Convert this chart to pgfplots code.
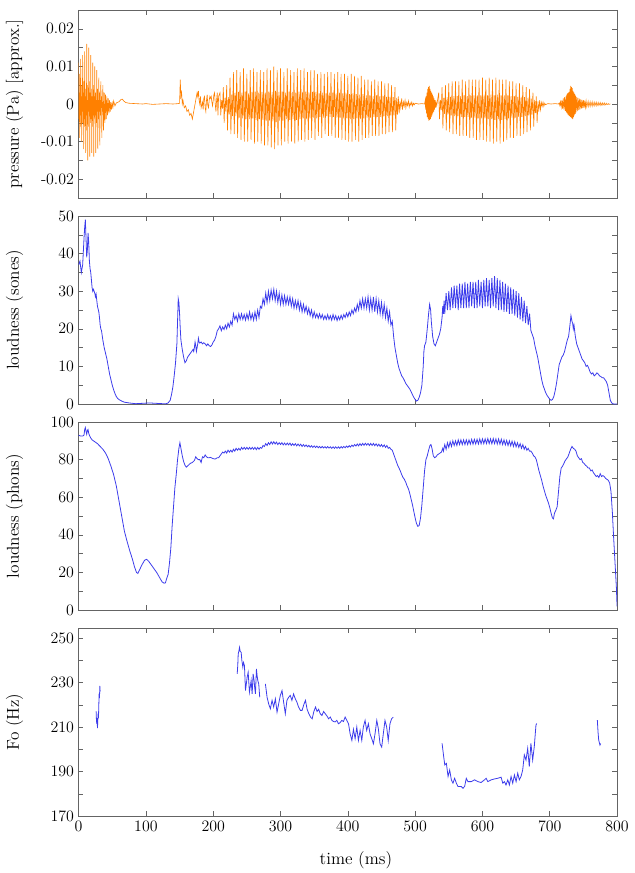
\documentclass[border=0pt]{standalone}
\usepackage{pgfplots}
\pgfplotsset{compat=1.18}
\usepgfplotslibrary{groupplots}
\definecolor{wave}{RGB}{255,128,0}
\definecolor{lblue}{RGB}{60,60,235}
\definecolor{frame}{RGB}{100,100,100}
\begin{document}
\begin{tikzpicture}
\begin{groupplot}[
  group style={group size=1 by 4, vertical sep=13.5pt, xticklabels at=edge bottom},
  width=405.75pt, height=141.75pt, scale only axis,
  xmin=0, xmax=800, xtick={0,100,...,800},
  tick align=inside,
  axis line style={frame}, every tick/.style={frame},
  major tick length=3.5pt, minor tick length=3.5pt,
  tick label style={font=\fontsize{12}{14}\selectfont},
  every axis y label/.style={at={(axis description cs:-0.119,0.5)}, rotate=90, anchor=center, font=\fontsize{13}{15}\selectfont},
  minor y tick num=1,
]
% ---------------- pressure waveform ----------------
\nextgroupplot[ymin=-0.025, ymax=0.025, ytick={-0.02,-0.01,0,0.01,0.02},
  yticklabels={-0.02,-0.01,0,0.01,0.02}, scaled y ticks=false,
  ylabel={pressure (Pa) [approx.]}]
\addplot[wave, line width=0.45pt] coordinates {
(0,0.011)(0.5,-0.004)(1,0.008)(1.5,-0.009)(2,0.003)(2.5,-0.006)(3,0.012)(3.5,-0.003)(4,0.005)(4.5,-0.010)
(5,0.002)(5.5,-0.005)(6,0.013)(6.5,-0.002)(7,0.006)(7.5,-0.012)(8,0.003)(8.5,-0.006)(9,0.014)(9.5,-0.004)
(10,0.004)(10.5,-0.013)(11,0.002)(11.5,-0.007)(12,0.016)(12.5,-0.003)(13,0.005)(13.5,-0.015)(14,0.001)(14.5,-0.006)
(15,0.015)(15.5,-0.002)(16,0.006)(16.5,-0.014)(17,0.003)(17.5,-0.005)(18,0.013)(18.5,-0.004)(19,0.004)(19.5,-0.013)
(20,0.002)(20.5,-0.006)(21,0.011)(21.5,-0.003)(22,0.005)(22.5,-0.014)(23,0.002)(23.5,-0.004)(24,0.010)(24.5,-0.003)
(25,0.003)(25.5,-0.013)(26,0.001)(26.5,-0.005)(27,0.009)(27.5,-0.002)(28,0.004)(28.5,-0.012)(29,0.001)(29.5,-0.004)
(30,0.007)(30.5,-0.002)(31,0.003)(31.5,-0.011)(32,0.001)(32.5,-0.003)(33,0.006)(33.5,-0.001)(34,0.002)(34.5,-0.009)
(35,0.0005)(35.5,-0.002)(36,0.005)(37,-0.007)(38,0.003)(39,-0.005)(40,0.0025)(41,-0.004)(42,0.002)(43,-0.003)
(44,0.0015)(45,-0.0025)(46,0.001)(47,-0.002)(48,0.0005)(49,-0.0015)(50,0.0002)(51,-0.0008)(52,0.0008)(54,-0.0005)
(56,0.0003)(60,0.0006)(63,0.0012)(65,0.0013)(67,0.0008)(70,0.0004)(75,0.0002)(85,0.0001)(95,0)(100,0.0001)
(110,-0.0001)(120,0)(130,0.0001)(140,0)(148,0.0001)(150,0.0002)
(151,0.0065)(152,0.002)(153,0.003)(154,0)(155,0.001)(157,-0.001)(159,-0.0005)(161,-0.002)(163,-0.0015)(165,-0.003)
(167,-0.0025)(169,-0.004)(170,-0.003)(172,-0.001)(174,0.001)(176,0.003)(177,0.002)(178,0.0035)(179,0.001)(180,0)
(181,0.002)(182,-0.001)(184,0.0005)(185,-0.0015)(186,0.0015)(187,0.002)(188,-0.001)(189,-0.002)(190,0.001)(191,0.0025)
(192,-0.0005)(193,-0.001)(194,0.001)(195,0.002)(196,0.0015)(197,0.002)(198,0.0005)(199,-0.0005)(200,0.001)(201,0.0025)
(202,0.003)(203,0)(204,-0.002)(205,0.001)(206,0.003)(207,-0.003)(208,0.002)
(210,0.0030)(211.2,-0.0030)(212.5,0.0010)(213.7,-0.0012)
(215,0.0045)(216.2,-0.0050)(217.5,0.0016)(218.7,-0.0020)
(220,0.0050)(221.2,-0.0070)(222.5,0.0018)(223.7,-0.0028)
(225,0.0070)(226.2,-0.0080)(227.5,0.0025)(228.7,-0.0032)
(230,0.0085)(231.2,-0.0080)(232.5,0.0030)(233.7,-0.0032)
(235,0.0090)(236.2,-0.0090)(237.5,0.0032)(238.7,-0.0036)
(240,0.0085)(241.2,-0.0095)(242.5,0.0030)(243.7,-0.0038)
(245,0.0095)(246.2,-0.0100)(247.5,0.0033)(248.7,-0.0040)
(250,0.0080)(251.2,-0.0100)(252.5,0.0028)(253.7,-0.0040)
(255,0.0090)(256.2,-0.0095)(257.5,0.0032)(258.7,-0.0038)
(260,0.0095)(261.2,-0.0105)(262.5,0.0033)(263.7,-0.0042)
(265,0.0085)(266.2,-0.0100)(267.5,0.0030)(268.7,-0.0040)
(270,0.0090)(271.2,-0.0105)(272.5,0.0032)(273.7,-0.0042)
(275,0.0085)(276.2,-0.0110)(277.5,0.0030)(278.7,-0.0044)
(280,0.0095)(281.2,-0.0110)(282.5,0.0033)(283.7,-0.0044)
(285,0.0090)(286.2,-0.0115)(287.5,0.0032)(288.7,-0.0046)
(290,0.0100)(291.2,-0.0120)(292.5,0.0035)(293.7,-0.0048)
(295,0.0090)(296.2,-0.0110)(297.5,0.0032)(298.7,-0.0044)
(300,0.0095)(301.2,-0.0110)(302.5,0.0033)(303.7,-0.0044)
(305,0.0085)(306.2,-0.0100)(307.5,0.0030)(308.7,-0.0040)
(310,0.0095)(311.2,-0.0105)(312.5,0.0033)(313.7,-0.0042)
(315,0.0090)(316.2,-0.0100)(317.5,0.0032)(318.7,-0.0040)
(320,0.0085)(321.2,-0.0105)(322.5,0.0030)(323.7,-0.0042)
(325,0.0095)(326.2,-0.0100)(327.5,0.0033)(328.7,-0.0040)
(330,0.0090)(331.2,-0.0095)(332.5,0.0032)(333.7,-0.0038)
(335,0.0095)(336.2,-0.0100)(337.5,0.0033)(338.7,-0.0040)
(340,0.0085)(341.2,-0.0095)(342.5,0.0030)(343.7,-0.0038)
(345,0.0090)(346.2,-0.0090)(347.5,0.0032)(348.7,-0.0036)
(350,0.0090)(351.2,-0.0095)(352.5,0.0032)(353.7,-0.0038)
(355,0.0080)(356.2,-0.0085)(357.5,0.0028)(358.7,-0.0034)
(360,0.0085)(361.2,-0.0090)(362.5,0.0030)(363.7,-0.0036)
(365,0.0080)(366.2,-0.0080)(367.5,0.0028)(368.7,-0.0032)
(370,0.0085)(371.2,-0.0085)(372.5,0.0030)(373.7,-0.0034)
(375,0.0085)(376.2,-0.0085)(377.5,0.0030)(378.7,-0.0034)
(380,0.0080)(381.2,-0.0090)(382.5,0.0028)(383.7,-0.0036)
(385,0.0085)(386.2,-0.0090)(387.5,0.0030)(388.7,-0.0036)
(390,0.0080)(391.2,-0.0095)(392.5,0.0028)(393.7,-0.0038)
(395,0.0080)(396.2,-0.0095)(397.5,0.0028)(398.7,-0.0038)
(400,0.0075)(401.2,-0.0100)(402.5,0.0026)(403.7,-0.0040)
(405,0.0080)(406.2,-0.0100)(407.5,0.0028)(408.7,-0.0040)
(410,0.0075)(411.2,-0.0095)(412.5,0.0026)(413.7,-0.0038)
(415,0.0070)(416.2,-0.0100)(417.5,0.0025)(418.7,-0.0040)
(420,0.0075)(421.2,-0.0095)(422.5,0.0026)(423.7,-0.0038)
(425,0.0065)(426.2,-0.0090)(427.5,0.0023)(428.7,-0.0036)
(430,0.0065)(431.2,-0.0090)(432.5,0.0023)(433.7,-0.0036)
(435,0.0060)(436.2,-0.0085)(437.5,0.0021)(438.7,-0.0034)
(440,0.0065)(441.2,-0.0085)(442.5,0.0023)(443.7,-0.0034)
(445,0.0060)(446.2,-0.0085)(447.5,0.0021)(448.7,-0.0034)
(450,0.0060)(451.2,-0.0080)(452.5,0.0021)(453.7,-0.0032)
(455,0.0055)(456.2,-0.0080)(457.5,0.0019)(458.7,-0.0032)
(460,0.0055)(461.2,-0.0075)(462.5,0.0019)(463.7,-0.0030)
(465,0.0050)(466.2,-0.0075)(467.5,0.0018)(468.7,-0.0030)
(470,0.0045)(471.2,-0.0070)(472.5,0.0016)(473.7,-0.0028)
(475,0.0020)(476.2,-0.0025)(477.5,0.0007)(478.7,-0.0010)
(480,0.0015)(481.2,-0.0015)(482.5,0.0005)(483.7,-0.0006)
(485,0.0010)(486.2,-0.0010)(487.5,0.0004)(488.7,-0.0004)
(490,0.0008)(491.2,-0.0008)(492.5,0.0003)(493.7,-0.0003)
(495,0.0005)(496.2,-0.0005)(497.5,0.0002)(498.7,-0.0002)
(500,0.0002)(505,0)(510,0.0001)(514,0)
(515,0.001)(515.6,-0.0015)(516.2,0.002)(516.8,-0.0025)(517.4,0.003)(518,-0.0035)(518.6,0.004)(519.2,-0.004)
(519.8,0.0045)(520.4,-0.0045)(521,0.0048)(521.6,-0.0042)(522.2,0.004)(522.8,-0.004)(523.4,0.0035)(524,-0.0035)
(524.6,0.003)(525.2,-0.003)(525.8,0.0025)(526.4,-0.0025)(527,0.002)(527.6,-0.002)(528.2,0.0015)(528.8,-0.0015)
(529.4,0.001)(530,-0.001)(531,0.0005)(532,-0.0005)
(535,0.0030)(536.2,-0.0040)(537.5,0.0011)(538.7,-0.0016)
(540,0.0045)(541.2,-0.0065)(542.5,0.0016)(543.7,-0.0026)
(545,0.0050)(546.2,-0.0070)(547.5,0.0018)(548.7,-0.0028)
(550,0.0055)(551.2,-0.0075)(552.5,0.0019)(553.7,-0.0030)
(555,0.0060)(556.2,-0.0080)(557.5,0.0021)(558.7,-0.0032)
(560,0.0060)(561.2,-0.0080)(562.5,0.0021)(563.7,-0.0032)
(565,0.0060)(566.2,-0.0085)(567.5,0.0021)(568.7,-0.0034)
(570,0.0065)(571.2,-0.0085)(572.5,0.0023)(573.7,-0.0034)
(575,0.0060)(576.2,-0.0085)(577.5,0.0021)(578.7,-0.0034)
(580,0.0065)(581.2,-0.0090)(582.5,0.0023)(583.7,-0.0036)
(585,0.0065)(586.2,-0.0090)(587.5,0.0023)(588.7,-0.0036)
(590,0.0065)(591.2,-0.0095)(592.5,0.0023)(593.7,-0.0038)
(595,0.0065)(596.2,-0.0095)(597.5,0.0023)(598.7,-0.0038)
(600,0.0070)(601.2,-0.0095)(602.5,0.0025)(603.7,-0.0038)
(605,0.0065)(606.2,-0.0100)(607.5,0.0023)(608.7,-0.0040)
(610,0.0070)(611.2,-0.0100)(612.5,0.0025)(613.7,-0.0040)
(615,0.0065)(616.2,-0.0105)(617.5,0.0023)(618.7,-0.0042)
(620,0.0070)(621.2,-0.0100)(622.5,0.0025)(623.7,-0.0040)
(625,0.0065)(626.2,-0.0105)(627.5,0.0023)(628.7,-0.0042)
(630,0.0065)(631.2,-0.0100)(632.5,0.0023)(633.7,-0.0040)
(635,0.0065)(636.2,-0.0095)(637.5,0.0023)(638.7,-0.0038)
(640,0.0060)(641.2,-0.0090)(642.5,0.0021)(643.7,-0.0036)
(645,0.0060)(646.2,-0.0090)(647.5,0.0021)(648.7,-0.0036)
(650,0.0055)(651.2,-0.0085)(652.5,0.0019)(653.7,-0.0034)
(655,0.0055)(656.2,-0.0085)(657.5,0.0019)(658.7,-0.0034)
(660,0.0050)(661.2,-0.0080)(662.5,0.0018)(663.7,-0.0032)
(665,0.0045)(666.2,-0.0075)(667.5,0.0016)(668.7,-0.0030)
(670,0.0040)(671.2,-0.0070)(672.5,0.0014)(673.7,-0.0028)
(675,0.0030)(676.2,-0.0060)(677.5,0.0011)(678.7,-0.0024)
(680,0.0020)(681.2,-0.0050)(682.5,0.0007)(683.7,-0.0020)
(685,0.0010)(686.2,-0.0015)(687.5,0.0004)(688.7,-0.0006)
(690,0.0005)(691.2,-0.0006)(692.5,0.0002)(693.7,-0.0002)
(697,0.0001)(702,0)(708,0.0001)(713,0)
(714,0.0003)(715,-0.0004)(716,0.0006)(717,-0.0008)(718,0.0010)(719,-0.0012)(720,0.0015)(721,-0.0015)(722,0.0018)(723,-0.0018)
(724,0.0020)(724.6,-0.0022)(725.2,0.0025)(725.8,-0.0025)(726.4,0.0028)(727,-0.0028)(727.6,0.0030)(728.2,-0.0030)(728.8,0.0032)(729.4,-0.0032)
(730,0.0040)(730.6,-0.0034)(731.2,0.0048)(731.8,-0.0036)(732.4,0.0045)(733,-0.0038)(733.6,0.0042)(734.2,-0.0040)(734.8,0.0035)(735.4,-0.0035)
(736,0.0030)(736.6,-0.0030)(737.2,0.0026)(737.8,-0.0026)(738.4,0.0022)(739,-0.0022)(740,0.0019)(741,-0.0019)(742,0.0016)(743,-0.0016)
(744,0.0014)(745,-0.0014)(746,0.0012)(747,-0.0012)(748,0.0011)(749,-0.0011)(750,0.0010)(751,-0.0010)(752,0.0009)(753,-0.0009)
(754,0.0008)(755,-0.0008)(757,0.0007)(758,-0.0007)(760,0.0006)(761,-0.0006)(763,0.0006)(764,-0.0006)(766,0.0005)(767,-0.0005)
(769,0.0005)(770,-0.0005)(772,0.0004)(773,-0.0004)(775,0.0004)(776,-0.0004)(778,0.0003)(779,-0.0003)(781,0.0003)(782,-0.0003)
(784,0.0002)(785,-0.0002)(787,0.0001)(788,-0.0001)(790,0)
};
% ---------------- loudness sones ----------------
\nextgroupplot[ymin=0, ymax=50, ytick={0,10,...,50}, ylabel={loudness (sones)}]
\addplot[lblue, line width=0.6pt] coordinates {
(0,37)(2,38)(4,35)(6,37)(8,44)(9,47)(10,49)(11,44)(12,39)(13,41)(14,45.5)(15,43)(16,38)(17,36)(18,35)(20,31)(21,30)(22,30.5)
(24,29.5)(25,28.5)(26,29.2)(27,27.5)(28,26)(30,24.5)(31,23)(32,21)(33,20)(34,19.5)(36,17)(38,15)(40,13.5)(42,12)(44,10)(46,8)
(48,6.5)(50,5)(52,3.8)(54,2.8)(56,2)(58,1.5)(60,1.2)(64,0.8)(68,0.5)(75,0.3)(85,0.1)(95,0.2)(105,0.3)(115,0.2)(125,0.1)(130,0.1)
(133,0.3)(136,1)(138,2.5)(140,4.5)(142,7.5)(144,11)(146,16)(147,22)(148,28)(149,27)(150,24)(151,20)(152,17)(154,14.5)(156,12.5)
(158,11)(160,11.5)(162,12.5)(164,13)(166,13.5)(168,14)(170,14.5)(171,14)(172,15)(173,16.5)(174,15.5)(175,14)(176,15)(177,16)
(178,17.5)(179,16.5)(180,16.2)(182,16.5)(184,16)(186,16.3)(188,16)(190,15.5)(192,16)(194,15.5)(196,15.3)(198,15.7)(200,16.5)
(202,17)(204,18)(206,19.5)(208,20)(210,20.8)(212,19.5)(214,20.5)(216,19.8)(218,21)(220,20)(222,21.5)(224,20.5)(226,22)(228,21)
(230,24)(232,22.5)(234,23.5)(236,22)(238,24)(240,22.5)(242,24)(244,22.5)(246,23.8)(248,22.3)(250,24)(252,22.5)(254,24.5)(256,22.5)
(258,24)(260,22.3)(262,24.5)(264,22.5)(266,25)(268,23)(270,26)(272,25.5)(274,28)(276,26.5)(278,29.5)(280,27)(282,30)(284,27.5)
(286,30.3)(288,28)(290,30.5)(292,27.5)(294,30)(296,27)(298,29.5)(300,26.5)(302,29)(304,26.5)(306,28.8)(308,26.5)(310,28.5)
(312,26.5)(314,28.5)(316,26)(318,28)(320,25.5)(322,27.5)(324,25.5)(326,27.5)(328,25)(330,27)(332,24.5)(334,26.5)(336,24.5)
(338,26)(340,24)(342,25.5)(344,23.5)(346,25)(348,23)(350,24.5)(352,23)(354,24)(356,22.8)(358,24)(360,22.8)(362,23.8)(364,22.5)
(366,23.5)(368,22.5)(370,23.8)(372,22.5)(374,23.5)(376,22.3)(378,23.8)(380,22.5)(382,23.5)(384,22.2)(386,23.3)(388,22.4)
(390,23.6)(392,22.6)(394,23.8)(396,23)(398,24.2)(400,23.2)(402,24.5)(404,23.5)(406,25)(408,24)(410,25.5)(412,24.5)(414,26.5)
(416,25)(418,27.5)(420,25.5)(422,28)(424,25.5)(426,28)(428,25.5)(430,28.5)(432,25)(434,28)(436,25)(438,28.5)(440,24.5)(442,28)
(444,24.5)(446,27.5)(448,24)(450,27)(452,23.5)(454,26.5)(456,23)(458,25.5)(460,22)(462,24.5)(464,21)(466,22)(468,18)(470,15)
(472,13)(474,11)(476,9.5)(478,8.5)(480,7.5)(482,7)(484,6.3)(486,5.5)(488,5)(490,4.5)(492,4)(494,3.3)(496,2.5)(498,1.8)(500,1.2)
(502,0.8)(504,1)(506,1.8)(508,3)(510,5)(512,10)(513,14)(514,15.5)(516,16.5)(518,20)(520,24)(521.5,26.5)(523,25)(524,22)(526,18)
(528,16)(530,15.5)(532,16.5)(534,17.5)(536,18.5)(538,20)(540,23)(541,26)(542,24)(543,27.5)(544,24)(546,29.5)(548,25)(550,30)
(552,25)(554,31)(556,25.5)(558,31.5)(560,25.5)(562,31.5)(564,25)(566,32)(568,25.5)(570,32)(572,25.5)(574,32.5)(576,25.5)(578,32)
(580,25.5)(582,32.5)(584,26)(586,32.5)(588,25.5)(590,32.5)(592,25.5)(594,33)(596,26)(598,32.5)(600,25.5)(602,33)(604,26)
(606,33.5)(608,26)(610,33)(612,25.5)(614,33.5)(616,26)(618,34)(620,25.5)(622,33.5)(624,25)(626,33)(628,25)(630,32.5)(632,24.5)
(634,32)(636,24.5)(638,31.5)(640,24)(642,31)(644,24)(646,30.5)(648,23.5)(650,30)(652,23)(654,29.5)(656,22.5)(658,28.5)(660,22)
(662,27.5)(664,21.5)(666,26)(668,21)(670,24)(672,19.5)(674,18.5)(676,17.5)(678,15.5)(680,14)(682,12.5)(684,10.5)(686,8.5)
(688,6.5)(690,5)(692,4)(694,3)(696,2.3)(698,1.8)(700,1.3)(702,1)(704,1.2)(706,2)(708,3.5)(710,5.5)(712,8)(714,10.5)(716,11.5)
(718,12.5)(720,13)(722,14)(724,15.5)(726,17)(728,18)(730,21)(731.5,23.5)(733,22)(734,21.5)(735,20)(736,21)(737,19.5)(738,18)
(740,16)(742,15)(744,14)(746,13)(748,12)(750,11.5)(752,11)(754,10)(756,10.3)(758,9.5)(760,8.5)(762,8)(764,8.3)(766,7.5)
(768,7.8)(770,8.3)(772,8)(774,7.5)(776,7.3)(778,7)(780,7)(782,6.5)(784,6)(786,5)(788,3)(790,1)(792,0.3)(795,0)(800,0)
};
% ---------------- loudness phons ----------------
\nextgroupplot[ymin=0, ymax=100, ytick={0,20,...,100}, ylabel={loudness (phons)}]
\addplot[lblue, line width=0.6pt] coordinates {
(0,93)(3,92.5)(6,92.5)(8,93)(9,96)(10,97)(11,95)(12,93.5)(13,95.5)(14,96)(15,94)(16,93)(18,91.5)(20,90.5)(24,89.5)(28,88.5)
(32,87)(36,85.5)(40,83.5)(44,80.5)(48,76.5)(52,72)(56,66)(60,58)(64,50)(68,42)(72,36.5)(76,31.5)(80,27)(83,23)(86,20)(88,19.5)
(90,21)(94,24)(98,26.5)(101,27)(104,26)(108,24)(112,22)(116,20)(120,17.5)(124,15)(127,14.3)(129,14.5)(131,17)(133,19)(135,25)
(137,33)(139,45)(141,55)(143,65)(145,72)(147,80)(149,86)(150.5,89)(152,86)(154,82)(156,79)(158,77)(160,76)(163,77)(166,78)
(169,78.5)(172,79.5)(174,81.5)(176,80.5)(178,80)(180,80)(182,78.5)(184,81.5)(186,81)(188,82.5)(190,81.5)(192,81)(194,81)
(196,81.2)(198,80.8)(200,80.5)(203,80.3)(206,81)(208,81)(210,82)(212,83)(214,84)(216,83.5)(218,84.5)(220,83.5)(222,85)(224,84)
(226,85)(228,84)(230,85.5)(232,84.5)(234,86)(236,85)(238,86)(240,85)(242,86.5)(244,85.5)(246,86.5)(248,85.5)(250,86.5)
(252,85.5)(254,86.5)(256,85.5)(258,86.5)(260,85.5)(262,86.5)(264,85.3)(266,86.5)(268,85.5)(270,86.5)(272,86)(274,87.5)(276,87)
(278,88.5)(280,87.5)(282,89)(284,88)(286,89.5)(288,88.3)(290,89.5)(292,88.3)(294,89.3)(296,88)(298,89)(300,88)(302,89)
(304,87.8)(306,88.8)(308,87.8)(310,88.8)(312,87.8)(314,88.8)(316,87.5)(318,88.5)(320,87.5)(322,88.5)(324,87.3)(326,88.3)
(328,87.3)(330,88.2)(332,87)(334,88)(336,87)(338,87.8)(340,86.8)(342,87.6)(344,86.6)(346,87.4)(348,86.5)(350,87.3)(352,86.4)
(354,87.2)(356,86.3)(358,87)(360,86.2)(362,87)(364,86.2)(366,86.9)(368,86.1)(370,86.9)(372,86.1)(374,86.8)(376,86)(378,86.8)
(380,86)(382,86.8)(384,86)(386,86.8)(388,86)(390,86.9)(392,86.2)(394,87)(396,86.3)(398,87.2)(400,86.5)(402,87.4)(404,86.7)
(406,87.7)(408,87)(410,88)(412,87.2)(414,88.3)(416,87.3)(418,88.5)(420,87.5)(422,88.6)(424,87.6)(426,88.7)(428,87.7)(430,88.6)
(432,87.5)(434,88.6)(436,87.5)(438,88.6)(440,87.4)(442,88.4)(444,87.2)(446,88.2)(448,87)(450,88)(452,86.8)(454,87.8)(456,86.5)
(458,87.5)(460,86)(462,86.5)(464,85.5)(466,85)(468,83)(470,81)(472,79)(474,77)(476,75.5)(478,74)(480,72)(482,70.5)(484,69.5)
(486,68)(488,66)(490,64.5)(492,62)(494,59)(496,56)(498,52.5)(500,49)(502,46)(504,44.5)(506,45)(508,49)(510,56)(512,65)(514,74)
(516,80)(518,82)(520,85)(522,87.5)(523.5,88)(525,86)(527,82)(529,81)(531,81.5)(533,82.5)(535,83)(537,83.5)(539,84)(541,86)
(542,84.5)(544,88)(546,85.5)(548,89)(550,86.5)(552,89.5)(554,87)(556,90)(558,87.5)(560,90)(562,87.5)(564,90.5)(566,88)
(568,90.5)(570,88)(572,90.5)(574,88)(576,90.5)(578,88)(580,90.5)(582,88.2)(584,90.8)(586,88.2)(588,90.8)(590,88.3)(592,90.8)
(594,88.3)(596,91)(598,88.4)(600,91)(602,88.5)(604,91)(606,88.5)(608,91.2)(610,88.5)(612,91)(614,88.4)(616,91.2)(618,88.5)
(620,91)(622,88.3)(624,91)(626,88.2)(628,90.8)(630,88)(632,90.5)(634,87.8)(636,90.2)(638,87.5)(640,90)(642,87.3)(644,89.8)
(646,87)(648,89.5)(650,86.8)(652,89)(654,86.5)(656,88.5)(658,86)(660,88)(662,85.5)(664,87)(666,85)(668,86)(670,84.5)(672,84.5)
(674,83.5)(676,82)(678,81.5)(680,80)(682,77)(684,74)(686,71.5)(688,69)(690,66)(692,63.5)(694,61)(696,59)(698,57)(700,54.5)
(702,51.5)(704,49)(705.5,48.5)(707,51.5)(709,53)(711,55)(713,63)(715,71)(717,75.5)(719,76.5)(721,78)(723,79.5)(725,80.5)
(727,81.5)(729,83.5)(731,85.5)(733,87)(735,86)(737,85.5)(739,84.5)(741,82)(743,81)(745,80)(747,80.5)(749,78.5)(751,78)(753,77)
(755,76.5)(757,75.5)(759,75.5)(761,74)(763,74.5)(765,73)(767,72)(769,71)(771,71.5)(773,70.5)(775,72.5)(777,71)(779,71.5)
(781,71)(783,70)(785,69.5)(787,69)(789,67.5)(791,63)(793,52)(795,38)(797,25)(799,12)(800,2)
};
% ---------------- F0 ----------------
\nextgroupplot[ymin=170, ymax=254.5, ytick={170,190,...,250}, ylabel={Fo (Hz)},
  xlabel={time (ms)},
  every axis x label/.style={at={(axis description cs:0.515,-0.233)}, anchor=center, font=\fontsize{13}{15}\selectfont}]
\addplot[lblue, line width=0.6pt] coordinates {
(26,217)(26.5,213)(27,211.5)(27.5,214)(28,209.5)(28.5,213)(29,216)(29.5,214)(30,220)(30.5,225)(31,223)(31.5,228.5)(32,226)
};
\addplot[lblue, line width=0.6pt] coordinates {
(235.6,233.9)(236.5,238)(237.1,242.8)(238,244)(239.1,245.8)(240,244)(241.5,243.6)(242.5,240)(244,236.9)(245,239)(246.4,237.6)
(247.9,226.4)(249,229)(250.4,232.4)(251.9,234.6)(253.8,225.7)(255,228)(256.3,230.9)(257.8,224.9)(259.3,233.9)(260.7,230.9)
(261.5,228)(262.7,224.9)(264.2,236.1)(265.2,233)(266.2,230.9)(267.6,229.4)(269.1,223.4)
};
\addplot[lblue, line width=0.6pt] coordinates {
(277.5,229.4)(280,223.4)(282.4,220.4)(284.9,218.2)(287.4,222)(289.8,219)(292.3,222.7)(294.8,216.7)(297.2,220.4)(299.7,224.2)
(302.2,226.4)(304.6,221.2)(307.1,216)(309.5,222)(312,223.4)(314.5,224.2)(316.9,222)(319.4,224.9)(321.9,222.7)(324.3,221.2)
(326.8,219)(329.5,217.5)(332,217.5)(334.5,220)(337,222)(339.5,218)(342,216)(344.5,214.5)(347,213.7)(349.5,217)(352,219)
(354.3,217)(356.6,218)(359,216)(361.5,215.2)(364,217)(366.4,216)(369,215)(371.4,213.7)(374,214.5)(376.3,213)(378.8,212.5)
(381.2,212.3)(383.6,213)(386,211.5)(388.5,212)(391,213)(393.5,212.5)(396,214.5)(398.5,213)(401,211.5)(403.4,207)(406,204)
(408.3,209)(410.8,204.8)(413.3,210)(415.7,204)(418.2,208.5)(420.7,204)(423,210)(425.6,213)(428,208.5)(430.5,211.5)(433,207)
(435.5,204.8)(438,202.5)(440.4,207)(443,213)(445.3,209.3)(447.8,202.5)(450.3,201)(452.7,207)(455.2,213)(457.7,210)(460,204)
(462.6,211.5)(465,213.7)(467.5,214.5)
};
\addplot[lblue, line width=0.6pt] coordinates {
(540,202.7)(542.4,196.7)(544,193)(546.4,193.7)(548.9,187.8)(551.3,190.7)(553.8,186.3)(556.2,184.8)(558.7,187)(561.2,184.8)
(563.6,183.3)(568.6,183.3)(571,182.5)(573.5,183.3)(576,187)(578.4,185.5)(583.4,185.5)(588.3,186.3)(593.2,185.5)(598,185.1)
(603,186.3)(605.5,187)(608,185.5)(613,186.3)(617.9,186.7)(622.8,187)(627.7,187.5)(630.2,184.8)(632.7,185.5)(635,184)
(637.6,186.3)(640,184)(642.5,187.8)(645,184.8)(647.5,188.5)(650,185.5)(652.4,189.3)(654.8,186.3)(657.3,187.8)(659.8,190.7)
(662.2,197.5)(664.7,195.2)(667.2,200.4)(669.6,192.2)(672,202.7)(674.6,195.2)(677,201.2)(679.5,210.9)(680.5,211.6)
};
\addplot[lblue, line width=0.6pt] coordinates {
(770.7,213.1)(771.7,207.9)(772.7,204.2)(774.6,201.9)(775.6,202.6)
};
\end{groupplot}
\path ([xshift=-59.25pt, yshift=7.5pt]group c1r1.north west) rectangle ([xshift=13.5pt, yshift=-39.75pt]group c1r4.south east);
\end{tikzpicture}
\end{document}
